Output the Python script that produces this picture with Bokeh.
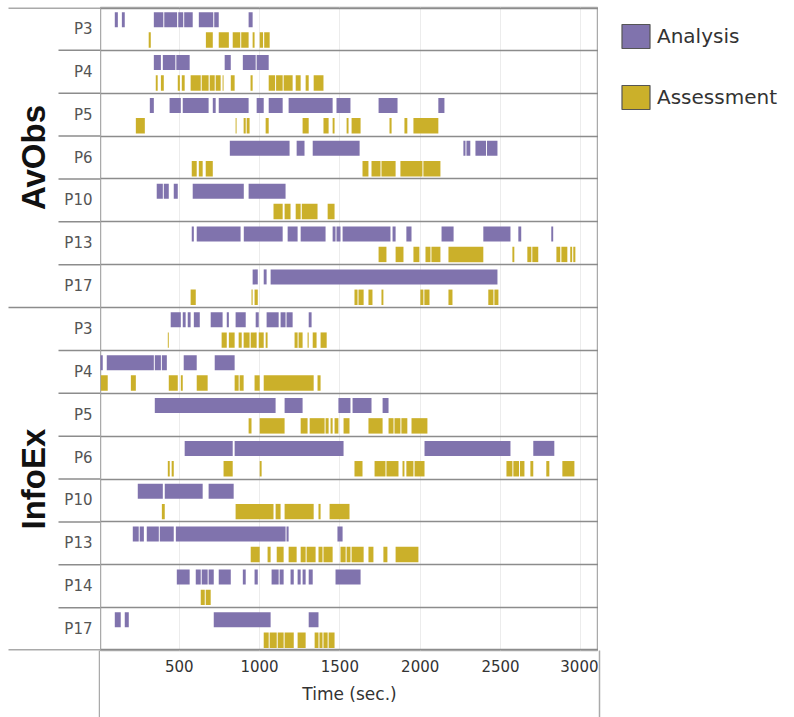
import math
from bokeh.plotting import figure
from bokeh.models import Range1d, FixedTicker, ColumnDataSource, Legend, LegendItem
from bokeh.layouts import row
from bokeh.embed import file_html
from bokeh.resources import INLINE
from bokeh.core.properties import value

# ---------------- data ----------------
GROUPS = ["AvObs", "InfoEx"]
AVOBS_PARTICIPANTS = ["P3", "P4", "P5", "P6", "P10", "P13", "P17"]
INFOEX_PARTICIPANTS = ["P3", "P4", "P5", "P6", "P10", "P13", "P14", "P17"]
SERIES = ["Analysis", "Assessment"]
X_TICKS = [500, 1000, 1500, 2000, 2500, 3000]
X_TITLE = "Time (sec.)"

AVOBS_P3_ANALYSIS = [(99, 118), (143, 161), (342, 401), (407, 487), (494, 525), (531, 584), (622, 712), (718, 746), (932, 957)]
AVOBS_P3_ASSESSMENT = [(310, 323), (666, 709), (746, 809), (833, 880), (886, 932), (957, 969), (1001, 1022), (1029, 1063)]
AVOBS_P4_ANALYSIS = [(342, 386), (398, 476), (482, 565), (783, 821), (896, 976), (982, 1057)]
AVOBS_P4_ASSESSMENT = [(354, 366), (386, 404), (491, 504), (516, 534), (571, 634), (640, 683), (690, 721), (727, 758), (770, 776), (821, 845), (944, 957), (1057, 1097), (1103, 1144), (1150, 1206), (1225, 1256), (1287, 1306), (1337, 1398)]
AVOBS_P5_ANALYSIS = [(317, 342), (440, 510), (522, 683), (709, 727), (746, 932), (982, 1026), (1057, 1144), (1181, 1455), (1479, 1566), (1741, 1859), (2113, 2151)]
AVOBS_P5_ASSESSMENT = [(230, 286), (851, 857), (901, 914), (920, 938), (1038, 1057), (1268, 1306), (1398, 1430), (1455, 1467), (1542, 1554), (1573, 1629), (1809, 1822), (1902, 1920), (1958, 2113)]
AVOBS_P6_ANALYSIS = [(815, 1187), (1231, 1280), (1331, 1623), (2269, 2282), (2288, 2312), (2344, 2410), (2416, 2481)]
AVOBS_P6_ASSESSMENT = [(578, 609), (622, 646), (665, 709), (1641, 1678), (1697, 1753), (1759, 1847), (1877, 2014), (2020, 2126)]
AVOBS_P10_ANALYSIS = [(360, 398), (404, 435), (466, 491), (584, 902), (932, 1162)]
AVOBS_P10_ASSESSMENT = [(1087, 1144), (1156, 1193), (1225, 1256), (1263, 1361), (1424, 1467)]
AVOBS_P13_ANALYSIS = [(578, 591), (609, 882), (902, 1144), (1175, 1237), (1256, 1411), (1455, 1473), (1479, 1504), (1517, 1815), (1828, 1847), (1914, 1946), (2133, 2208), (2393, 2562), (2611, 2629), (2816, 2828)]
AVOBS_P13_ASSESSMENT = [(1741, 1790), (1847, 1896), (1958, 1995), (2033, 2064), (2070, 2126), (2176, 2393), (2574, 2586), (2667, 2692), (2698, 2735), (2848, 2872), (2879, 2916), (2934, 2946), (2953, 2966)]
AVOBS_P17_ANALYSIS = [(957, 989), (1026, 1044), (1069, 2481)]
AVOBS_P17_ASSESSMENT = [(571, 603), (950, 957), (969, 989), (1591, 1610), (1616, 1648), (1678, 1703), (1759, 1771), (2001, 2020), (2026, 2058), (2176, 2201), (2424, 2456), (2462, 2487)]

INFOEX_P3_ANALYSIS = [(447, 510), (522, 540), (553, 571), (591, 628), (696, 770), (796, 809), (851, 914), (976, 995), (1044, 1119), (1131, 1162), (1168, 1206), (1306, 1324)]
INFOEX_P3_ASSESSMENT = [(429, 435), (764, 796), (809, 845), (870, 889), (901, 938), (945, 982), (995, 1026), (1038, 1050), (1218, 1237), (1243, 1268), (1299, 1306), (1331, 1355), (1380, 1418)]
INFOEX_P4_ANALYSIS = [(6, 24), (49, 342), (348, 386), (392, 423), (528, 609), (721, 845)]
INFOEX_P4_ASSESSMENT = [(12, 55), (199, 230), (435, 491), (510, 522), (609, 677), (845, 870), (876, 901), (969, 1001), (1026, 1337), (1361, 1380)]
INFOEX_P5_ANALYSIS = [(348, 1100), (1156, 1268), (1491, 1566), (1579, 1697), (1766, 1803)]
INFOEX_P5_ASSESSMENT = [(932, 950), (1001, 1156), (1256, 1299), (1312, 1405), (1411, 1430), (1442, 1455), (1467, 1491), (1523, 1560), (1678, 1766), (1803, 1834), (1840, 1877), (1883, 1920), (1946, 2045)]
INFOEX_P6_ANALYSIS = [(534, 833), (845, 1523), (2027, 2562), (2704, 2835)]
INFOEX_P6_ASSESSMENT = [(429, 441), (453, 466), (776, 833), (1001, 1013), (1591, 1641), (1716, 1784), (1790, 1865), (1890, 1902), (1914, 1958), (1965, 2027), (2537, 2574), (2580, 2615), (2621, 2649), (2686, 2704), (2785, 2804), (2885, 2960)]
INFOEX_P10_ANALYSIS = [(242, 398), (410, 646), (683, 839)]
INFOEX_P10_ASSESSMENT = [(392, 410), (851, 1087), (1100, 1131), (1156, 1337), (1367, 1380), (1436, 1560)]
INFOEX_P13_ANALYSIS = [(211, 248), (254, 280), (298, 373), (379, 466), (479, 1162), (1168, 1181), (1485, 1517)]
INFOEX_P13_ASSESSMENT = [(945, 1001), (1050, 1069), (1107, 1150), (1181, 1231), (1256, 1287), (1293, 1349), (1367, 1392), (1398, 1455), (1504, 1536), (1542, 1566), (1573, 1648), (1678, 1709), (1771, 1796), (1847, 1989)]
INFOEX_P14_ANALYSIS = [(485, 565), (603, 634), (640, 677), (683, 715), (746, 821), (896, 914), (969, 989), (1075, 1119), (1125, 1150), (1193, 1213), (1237, 1256), (1268, 1287), (1306, 1331), (1473, 1629)]
INFOEX_P14_ASSESSMENT = [(634, 659), (665, 696)]
INFOEX_P17_ANALYSIS = [(99, 136), (161, 186), (715, 1069), (1306, 1367)]
INFOEX_P17_ASSESSMENT = [(1026, 1057), (1063, 1107), (1113, 1150), (1156, 1213), (1237, 1287), (1343, 1367), (1373, 1392), (1398, 1424), (1430, 1467)]

ROWS = [
    ("AvObs", "P3", AVOBS_P3_ANALYSIS, AVOBS_P3_ASSESSMENT),
    ("AvObs", "P4", AVOBS_P4_ANALYSIS, AVOBS_P4_ASSESSMENT),
    ("AvObs", "P5", AVOBS_P5_ANALYSIS, AVOBS_P5_ASSESSMENT),
    ("AvObs", "P6", AVOBS_P6_ANALYSIS, AVOBS_P6_ASSESSMENT),
    ("AvObs", "P10", AVOBS_P10_ANALYSIS, AVOBS_P10_ASSESSMENT),
    ("AvObs", "P13", AVOBS_P13_ANALYSIS, AVOBS_P13_ASSESSMENT),
    ("AvObs", "P17", AVOBS_P17_ANALYSIS, AVOBS_P17_ASSESSMENT),
    ("InfoEx", "P3", INFOEX_P3_ANALYSIS, INFOEX_P3_ASSESSMENT),
    ("InfoEx", "P4", INFOEX_P4_ANALYSIS, INFOEX_P4_ASSESSMENT),
    ("InfoEx", "P5", INFOEX_P5_ANALYSIS, INFOEX_P5_ASSESSMENT),
    ("InfoEx", "P6", INFOEX_P6_ANALYSIS, INFOEX_P6_ASSESSMENT),
    ("InfoEx", "P10", INFOEX_P10_ANALYSIS, INFOEX_P10_ASSESSMENT),
    ("InfoEx", "P13", INFOEX_P13_ANALYSIS, INFOEX_P13_ASSESSMENT),
    ("InfoEx", "P14", INFOEX_P14_ANALYSIS, INFOEX_P14_ASSESSMENT),
    ("InfoEx", "P17", INFOEX_P17_ANALYSIS, INFOEX_P17_ASSESSMENT),
]

# ---------------- style ----------------
C_ANALYSIS = "#8073ad"
C_ASSESS = "#cbb02a"
LINE_C = "#8c8c8c"
EDGE_C = "#aaaaaa"
FONT = "DejaVu Sans"
GFONT = "Liberation Sans"

N = len(ROWS)
TOP_PX, BOTTOM_PX, H = 7, 67, 717
X_LO, X_HI = 10, 3110
EPS = 0.012  # keeps frame-edge lines inside the clip area


def bands(which):
    d = dict(left=[], right=[], bottom=[], top=[])
    for i, r in enumerate(ROWS):
        top = N - i
        segs = r[2] if which == 0 else r[3]
        if which == 0:
            t, b = top - 0.11, top - 0.46
        else:
            t, b = top - 0.58, top - 0.94
        for x0, x1 in segs:
            d["left"].append(x0); d["right"].append(x1)
            d["bottom"].append(b); d["top"].append(t)
    return ColumnDataSource(d)


def edge_axis(fig, xpos):
    """A label-less bottom axis whose single minor tick draws the border line
    running down through the axis band."""
    ax = fig.xaxis[0]
    ax.ticker = FixedTicker(ticks=[], minor_ticks=[xpos])
    ax.axis_line_color = None
    ax.major_tick_line_color = None
    ax.major_label_text_color = None
    ax.major_label_text_font_size = "1px"
    ax.major_tick_out = 0
    ax.major_tick_in = 0
    ax.major_label_standoff = 0
    ax.minor_tick_out = BOTTOM_PX
    ax.minor_tick_in = 0
    ax.minor_tick_line_color = EDGE_C
    ax.minor_tick_line_width = 1.5


# ---------------- main plot ----------------
p = figure(width=498, height=H, x_range=Range1d(X_LO, X_HI), y_range=Range1d(0, N),
           output_backend="svg", toolbar_location=None, y_axis_location=None,
           min_border_left=0, min_border_right=0, min_border_top=TOP_PX,
           min_border_bottom=BOTTOM_PX)
p.background_fill_color = "white"
p.xgrid.grid_line_color = "#ececec"
p.ygrid.visible = False
p.xaxis.ticker = FixedTicker(ticks=X_TICKS)
p.xaxis.axis_label = X_TITLE
p.xaxis.axis_line_color = None
p.xaxis.major_tick_line_color = None
p.xaxis.minor_tick_line_color = None
p.xaxis.major_tick_out = 0
p.xaxis.major_tick_in = 0
p.xaxis.minor_tick_out = 0
p.xaxis.minor_tick_in = 0
p.xaxis.major_label_standoff = 9
p.xaxis.axis_label_standoff = 9
p.xaxis.major_label_text_font = FONT
p.xaxis.major_label_text_font_size = "15px"
p.xaxis.major_label_text_color = "#333333"
p.xaxis.axis_label_text_font = FONT
p.xaxis.axis_label_text_font_size = "17px"
p.xaxis.axis_label_text_font_style = "normal"
p.xaxis.axis_label_text_color = "#333333"
p.outline_line_color = EDGE_C
p.outline_line_width = 1.5

p.quad(source=bands(0), left="left", right="right", bottom="bottom", top="top",
       fill_color=C_ANALYSIS, line_color=None)
p.quad(source=bands(1), left="left", right="right", bottom="bottom", top="top",
       fill_color=C_ASSESS, line_color=None)
p.hspan(y=list(range(1, N)), line_color=LINE_C, line_width=1.5)
p.hspan(y=[EPS, N - EPS], line_color=LINE_C, line_width=1.5)

# ---------------- left label panel ----------------
lf = figure(width=100, height=H, x_range=Range1d(0, 100), y_range=Range1d(0, N),
            output_backend="svg", toolbar_location=None, y_axis_location=None,
            min_border=0, min_border_top=TOP_PX, min_border_bottom=BOTTOM_PX)
lf.outline_line_color = None
lf.grid.visible = False
edge_axis(lf, 99.3)

lab = dict(x=[], y=[], text=[])
seg = dict(x0=[], x1=[], y0=[], y1=[])
for i, r in enumerate(ROWS):
    top = N - i
    lab["x"].append(92); lab["y"].append(top - 0.5); lab["text"].append(r[1])
    first_of_group = i == 0 or ROWS[i - 1][0] != r[0]
    seg["x0"].append(8 if first_of_group else 58); seg["x1"].append(100)
    seg["y0"].append(min(top, N - EPS)); seg["y1"].append(min(top, N - EPS))
seg["x0"].append(8); seg["x1"].append(100); seg["y0"].append(EPS); seg["y1"].append(EPS)
lf.segment(source=ColumnDataSource(seg), x0="x0", x1="x1", y0="y0", y1="y1",
           line_color=LINE_C, line_width=1.5)
lf.text(source=ColumnDataSource(lab), x="x", y="y", text="text", text_align="right",
        text_baseline="middle", text_font=value(FONT), text_font_size="15px",
        text_color="#555555")

gl = dict(x=[], y=[], text=[])
for g in GROUPS:
    idx = [i for i, r in enumerate(ROWS) if r[0] == g]
    gl["x"].append(33)
    gl["y"].append(N - (idx[0] + idx[-1] + 1) / 2)
    gl["text"].append(g)
lf.text(source=ColumnDataSource(gl), x="x", y="y", text="text", angle=math.pi / 2,
        text_align="center", text_baseline="middle", text_font=value(GFONT),
        text_font_size="33px", text_font_style="bold", text_color="#111111")

# ---------------- right legend panel ----------------
rf = figure(width=196, height=H, x_range=Range1d(0, 196), y_range=Range1d(0, N),
            output_backend="svg", toolbar_location=None, y_axis_location=None,
            min_border=0, min_border_top=TOP_PX, min_border_bottom=BOTTOM_PX)
rf.outline_line_color = None
rf.grid.visible = False
edge_axis(rf, 0.7)
la = rf.quad(left=[-50], right=[-40], bottom=[0], top=[1], fill_color=C_ANALYSIS,
             line_color="#555555", line_width=1.2)
ls = rf.quad(left=[-50], right=[-40], bottom=[0], top=[1], fill_color=C_ASSESS,
             line_color="#555555", line_width=1.2)
legend = Legend(items=[LegendItem(label=SERIES[0], renderers=[la]),
                       LegendItem(label=SERIES[1], renderers=[ls])],
                location=(20, 538), margin=0, padding=0, spacing=31,
                glyph_width=35, glyph_height=30, label_height=30, label_standoff=4,
                label_text_font=FONT, label_text_font_size="20px",
                label_text_color="#333333", border_line_color=None,
                background_fill_alpha=0)
rf.add_layout(legend)

layout = row(lf, p, rf)
open("out.html", "w").write(file_html(layout, INLINE))
